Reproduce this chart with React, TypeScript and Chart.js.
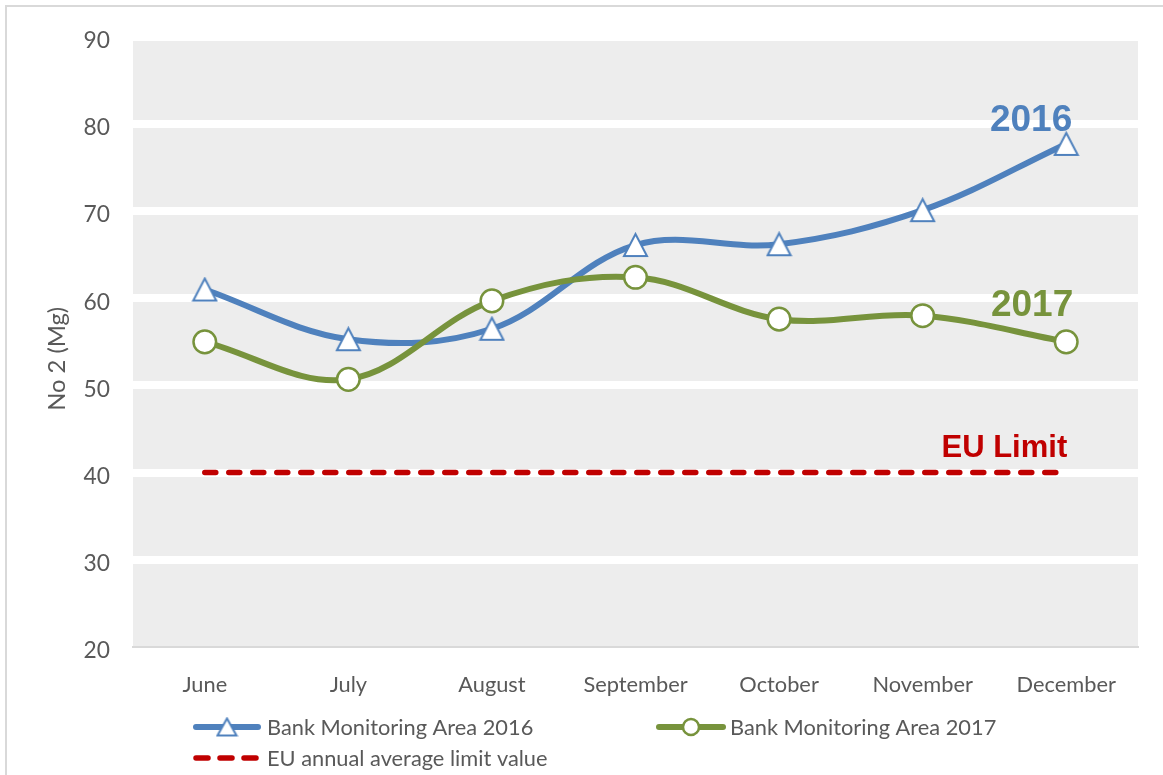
import React, { useEffect, useRef } from "react";
import { Chart, registerables } from "chart.js";

Chart.register(...registerables);

// ---- Data ----
const months = ["June", "July", "August", "September", "October", "November", "December"];
const area2016 = [61.0, 55.3, 56.5, 66.1, 66.2, 70.1, 77.7];
const area2017 = [55.0, 50.7, 59.7, 62.4, 57.6, 58.0, 55.0];
const euLimit = [40, 40, 40, 40, 40, 40, 40];
const yMin = 20;
const yMax = 90;
const yStep = 10;
const seriesNames = ["Bank Monitoring Area 2016", "Bank Monitoring Area 2017", "EU annual average limit value"];
const yTitle = "No 2 (Mg)";
const tag2016 = "2016";
const tag2017 = "2017";
const tagEU = "EU Limit";

const BLUE = "#4f81bd";
const GREEN = "#77933c";
const RED = "#c00000";
const TEXT = "#595959";
const FAMILY = "Lato, 'Open Sans', sans-serif";
const BOLD_FAMILY = "'Liberation Sans', Arial, sans-serif";

function fitSize(text: string, target: number, family: string, weight = "normal") {
  const c = document.createElement("canvas");
  const ctx = c.getContext("2d")!;
  ctx.font = `${weight} 100px ${family}`;
  const w = ctx.measureText(text).width;
  return Math.round((100 * target) / w * 10) / 10;
}

function makeTriangle(w: number, h: number, color: string, lw: number) {
  const c = document.createElement("canvas");
  const pad = lw;
  c.width = Math.ceil(w + pad * 2);
  c.height = Math.ceil(h + pad * 2);
  const ctx = c.getContext("2d")!;
  ctx.beginPath();
  ctx.moveTo(c.width / 2, pad);
  ctx.lineTo(pad + w, pad + h);
  ctx.lineTo(pad, pad + h);
  ctx.closePath();
  ctx.fillStyle = "#ffffff";
  ctx.fill();
  ctx.lineWidth = lw;
  ctx.strokeStyle = color;
  ctx.lineJoin = "miter";
  ctx.stroke();
  return c;
}

export default function App() {
  const ref = useRef<HTMLCanvasElement>(null);

  useEffect(() => {
    const canvas = ref.current!;
    const baseSize = fitSize(seriesNames[0], 266, FAMILY);
    const titleSize = fitSize(yTitle, 104, FAMILY);
    const triBig = makeTriangle(23, 22, BLUE, 2);
    const triSmall = makeTriangle(19, 17, BLUE, 2);

    const decorPlugin = {
      id: "decor",
      beforeDraw(chart: any) {
        const { ctx, chartArea } = chart;
        ctx.save();
        ctx.fillStyle = "#ffffff";
        ctx.fillRect(0, 0, chart.width, chart.height);
        // outer frame (left and top)
        ctx.fillStyle = "#d9d9d9";
        ctx.fillRect(5, 5, chart.width, 2);
        ctx.fillRect(5, 5, 2, chart.height);
        // plot background
        ctx.fillStyle = "#ededed";
        ctx.fillRect(chartArea.left, chartArea.top, chartArea.right - chartArea.left, chartArea.bottom - chartArea.top);
        ctx.restore();
      },
      afterDraw(chart: any) {
        const { ctx, scales } = chart;
        const xs = scales.x;
        const ys = scales.y;
        ctx.save();
        // Y axis title
        ctx.save();
        ctx.translate(57, (ys.top + ys.bottom) / 2 + 17);
        ctx.rotate(-Math.PI / 2);
        ctx.fillStyle = TEXT;
        ctx.font = `${titleSize}px ${FAMILY}`;
        ctx.textAlign = "center";
        ctx.textBaseline = "middle";
        ctx.fillText(yTitle, 0, 0);
        ctx.restore();

        // series tags
        const xRight = xs.getPixelForValue(months.length - 1) + 6;
        ctx.textAlign = "right";
        ctx.textBaseline = "middle";
        ctx.font = `bold 37px ${BOLD_FAMILY}`;
        ctx.fillStyle = BLUE;
        ctx.fillText(tag2016, xRight, ys.getPixelForValue(80.4));
        ctx.fillStyle = GREEN;
        ctx.fillText(tag2017, xRight + 1, ys.getPixelForValue(59.1));
        ctx.font = `bold 31px ${BOLD_FAMILY}`;
        ctx.fillStyle = RED;
        ctx.fillText(tagEU, xRight - 5, ys.getPixelForValue(42.8));

        // Legend
        ctx.font = `${baseSize}px ${FAMILY}`;
        ctx.fillStyle = TEXT;
        ctx.textAlign = "left";
        ctx.textBaseline = "middle";
        const r1 = 727;
        const r2 = 758;
        // 2016
        ctx.lineCap = "round";
        ctx.lineWidth = 6;
        ctx.strokeStyle = BLUE;
        ctx.beginPath();
        ctx.moveTo(196, r1);
        ctx.lineTo(258, r1);
        ctx.stroke();
        ctx.drawImage(triSmall, 227 - triSmall.width / 2, r1 - triSmall.height / 2);
        ctx.fillText(seriesNames[0], 267, r1 + 1);
        // 2017
        ctx.strokeStyle = GREEN;
        ctx.beginPath();
        ctx.moveTo(659, r1);
        ctx.lineTo(723, r1);
        ctx.stroke();
        ctx.beginPath();
        ctx.arc(691, r1, 8, 0, Math.PI * 2);
        ctx.fillStyle = "#ffffff";
        ctx.fill();
        ctx.lineWidth = 2.5;
        ctx.stroke();
        ctx.fillStyle = TEXT;
        ctx.fillText(seriesNames[1], 730, r1 + 1);
        // EU
        ctx.strokeStyle = RED;
        ctx.lineWidth = 5.5;
        ctx.setLineDash([12, 12]);
        ctx.beginPath();
        ctx.moveTo(196, r2);
        ctx.lineTo(256, r2);
        ctx.stroke();
        ctx.setLineDash([]);
        ctx.fillText(seriesNames[2], 267, r2 + 1);
        ctx.restore();
      },
    };

    const chart = new Chart(canvas, {
      type: "line",
      data: {
        labels: months,
        datasets: [
          {
            label: seriesNames[0],
            data: area2016,
            borderColor: BLUE,
            borderWidth: 6,
            tension: 0.36,
            pointStyle: triBig as any,
            pointRadius: 12,
            pointBackgroundColor: "#ffffff",
            pointBorderColor: BLUE,
            order: 3,
          },
          {
            label: seriesNames[1],
            data: area2017,
            borderColor: GREEN,
            borderWidth: 6,
            tension: 0.36,
            pointStyle: "circle",
            pointRadius: 11.3,
            pointBorderWidth: 2.5,
            pointBackgroundColor: "#ffffff",
            pointBorderColor: GREEN,
            order: 2,
          },
          {
            label: seriesNames[2],
            data: euLimit,
            borderColor: RED,
            borderWidth: 5.5,
            borderDash: [11, 13],
            borderCapStyle: "round",
            pointRadius: 0,
            tension: 0,
            order: 1,
          },
        ],
      },
      options: {
        animation: false,
        responsive: false,
        maintainAspectRatio: false,
        layout: { padding: { left: 0, right: 25, top: 34, bottom: 0 } },
        plugins: {
          legend: { display: false },
          tooltip: { enabled: false },
        },
        scales: {
          x: {
            offset: true,
            grid: { display: false, drawTicks: false },
            border: { display: true, color: "#d9d9d9", width: 2 },
            ticks: {
              color: TEXT,
              font: { family: FAMILY, size: baseSize },
              padding: 25,
              maxRotation: 0,
              autoSkip: false,
            },
            afterFit(scale: any) {
              scale.height = 128;
            },
          },
          y: {
            min: yMin,
            max: yMax,
            grid: {
              drawTicks: false,
              lineWidth: 8,
              color: (c: any) => (c.tick && c.tick.value === yMin ? "rgba(0,0,0,0)" : "#ffffff"),
            },
            border: { display: false },
            ticks: {
              stepSize: yStep,
              color: TEXT,
              font: { family: FAMILY, size: baseSize + 1 },
              padding: 23,
              labelOffset: 4,
            },
            afterFit(scale: any) {
              scale.width = 133;
            },
          },
        },
      },
      plugins: [decorPlugin],
    });
    return () => chart.destroy();
  }, []);

  return (
    <div style={{ position: "fixed", left: 0, top: 0, width: 1163, height: 775, background: "#fff" }}>
      <canvas ref={ref} width={1163} height={775} style={{ display: "block", width: 1163, height: 775 }} />
    </div>
  );
}
